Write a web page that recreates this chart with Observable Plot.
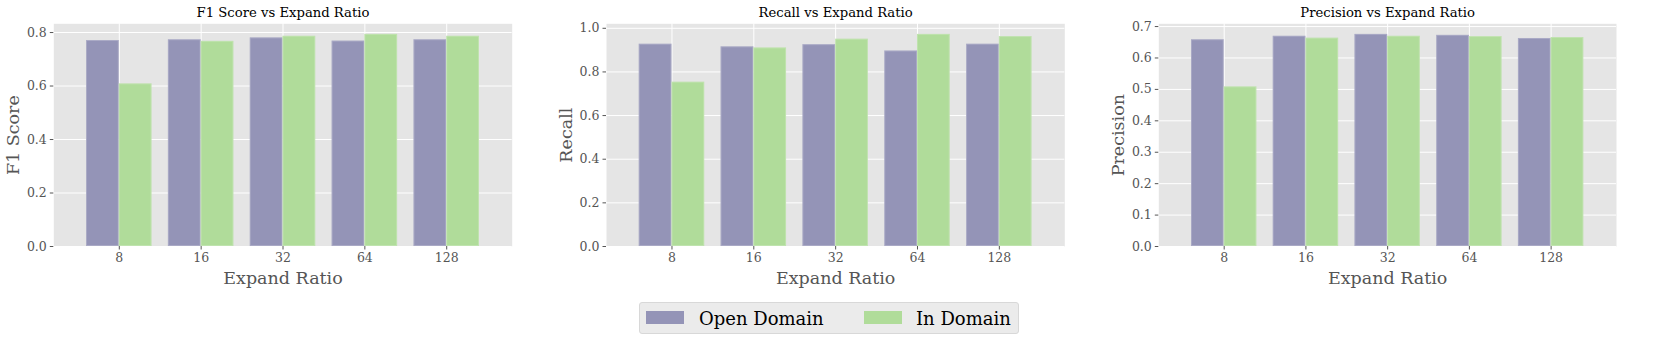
<!DOCTYPE html>
<html>
<head>
<meta charset="utf-8">
<script src="https://cdn.jsdelivr.net/npm/d3@7"></script>
<script src="https://cdn.jsdelivr.net/npm/@observablehq/plot@0.6"></script>
<style>
  html, body { margin: 0; padding: 0; background: #fff; }
  #root { position: relative; width: 1661px; height: 342px; overflow: hidden; font-family: "DejaVu Serif", serif; }
  .panel { position: absolute; top: 0; }
  #legend { position: absolute; left: 639px; top: 302px; width: 380px; height: 32px; background: #ebebeb; border: 1px solid #d8d8d8; border-radius: 3px; box-sizing: border-box; }
  .sw { position: absolute; top: 8px; width: 38px; height: 13px; }
  .lt { position: absolute; top: 0; line-height: 31px; font-size: 18px; color: #000; }
</style>
</head>
<body>
<div id="root"></div>
<script>
const categories = ["8", "16", "32", "64", "128"];
const seriesNames = ["Open Domain", "In Domain"];
const seriesColors = ["#9494b7", "#b0dc9a"];

const f1Open = [0.770, 0.773, 0.780, 0.768, 0.773];
const f1In = [0.608, 0.767, 0.786, 0.793, 0.786];
const recallOpen = [0.927, 0.915, 0.925, 0.896, 0.927];
const recallIn = [0.753, 0.910, 0.950, 0.972, 0.962];
const precisionOpen = [0.658, 0.669, 0.675, 0.672, 0.662];
const precisionIn = [0.508, 0.663, 0.669, 0.668, 0.665];

const f1Ticks = [0, 0.2, 0.4, 0.6, 0.8];
const recallTicks = [0, 0.2, 0.4, 0.6, 0.8, 1.0];
const precisionTicks = [0, 0.1, 0.2, 0.3, 0.4, 0.5, 0.6, 0.7];

const panels = [
  {title: "F1 Score vs Expand Ratio", label: "F1 Score", open: f1Open, inD: f1In, ticks: f1Ticks,
   left: 0, width: 550, marginLeft: 53.3, marginRight: 38.3},
  {title: "Recall vs Expand Ratio", label: "Recall", open: recallOpen, inD: recallIn, ticks: recallTicks,
   left: 550, width: 550, marginLeft: 56, marginRight: 35.7},
  {title: "Precision vs Expand Ratio", label: "Precision", open: precisionOpen, inD: precisionIn, ticks: precisionTicks,
   left: 1100, width: 561, marginLeft: 58.3, marginRight: 45}
];

const root = document.getElementById("root");
const idx = categories.map((_, i) => i);

for (const p of panels) {
  const rows = idx.flatMap(i => [
    {i, series: seriesNames[0], v: p.open[i]},
    {i, series: seriesNames[1], v: p.inD[i]}
  ]);
  const yMax = d3.max(rows, d => d.v) * 1.05;
  const chart = Plot.plot({
    width: p.width,
    height: 300,
    marginLeft: p.marginLeft,
    marginRight: p.marginRight,
    marginTop: 23.3,
    marginBottom: 54,
    style: {fontFamily: "DejaVu Serif", fontSize: "12.5px", color: "#555", background: "transparent", overflow: "visible"},
    x: {type: "linear", domain: [-0.8, 4.8]},
    y: {domain: [0, yMax]},
    color: {domain: seriesNames, range: seriesColors},
    marks: [
      Plot.frame({fill: "#e5e5e5", stroke: null}),
      Plot.gridY(p.ticks, {stroke: "#fff", strokeOpacity: 1, strokeWidth: 1}),
      Plot.gridX(idx, {stroke: "#fff", strokeOpacity: 1, strokeWidth: 1}),
      Plot.rectY(rows, {
        x1: d => d.i + (d.series === seriesNames[0] ? -0.4 : 0),
        x2: d => d.i + (d.series === seriesNames[0] ? 0 : 0.4),
        y1: 0, y2: "v", fill: "series", inset: 0
      }),
      Plot.rectY(rows, {
        x1: d => d.i + (d.series === seriesNames[0] ? -0.4 : 0),
        x2: d => d.i + (d.series === seriesNames[0] ? 0 : 0.4),
        y1: 0, y2: "v", fill: "none", inset: 0.5,
        stroke: "#fff", strokeOpacity: 0.2, strokeWidth: 1
      }),
      Plot.axisY(p.ticks, {tickSize: 3.5, tickPadding: 3.5, tickFormat: d3.format(".1f"), label: null, stroke: "#555", fill: "#555", fontSize: 12.5}),
      Plot.axisX(idx, {tickSize: 3.5, tickPadding: 3.5, tickFormat: i => categories[i], label: null, stroke: "#555", fill: "#555", fontSize: 12.5}),
      Plot.text([p.label], {frameAnchor: "left", rotate: -90, dx: -40, fontSize: 17.5, fill: "#555", textAnchor: "middle", lineAnchor: "middle"}),
      Plot.text(["Expand Ratio"], {frameAnchor: "bottom", dy: 32.3, fontSize: 17.5, fill: "#555", lineAnchor: "middle"}),
      Plot.text([p.title], {frameAnchor: "top", dy: -11, fontSize: 13.2, fill: "#000", lineAnchor: "middle"})
    ]
  });
  const wrap = document.createElement("div");
  wrap.className = "panel";
  wrap.style.left = p.left + "px";
  wrap.appendChild(chart);
  root.appendChild(wrap);
}

// Legend
const legend = document.createElement("div");
legend.id = "legend";
const legendPos = [{sw: 6, tx: 59}, {sw: 224, tx: 276}];
seriesNames.forEach((name, k) => {
  const sw = document.createElement("div");
  sw.className = "sw";
  sw.style.left = legendPos[k].sw + "px";
  sw.style.background = seriesColors[k];
  legend.appendChild(sw);
  const t = document.createElement("div");
  t.className = "lt";
  t.style.left = legendPos[k].tx + "px";
  t.textContent = name;
  legend.appendChild(t);
});
root.appendChild(legend);
</script>
</body>
</html>
